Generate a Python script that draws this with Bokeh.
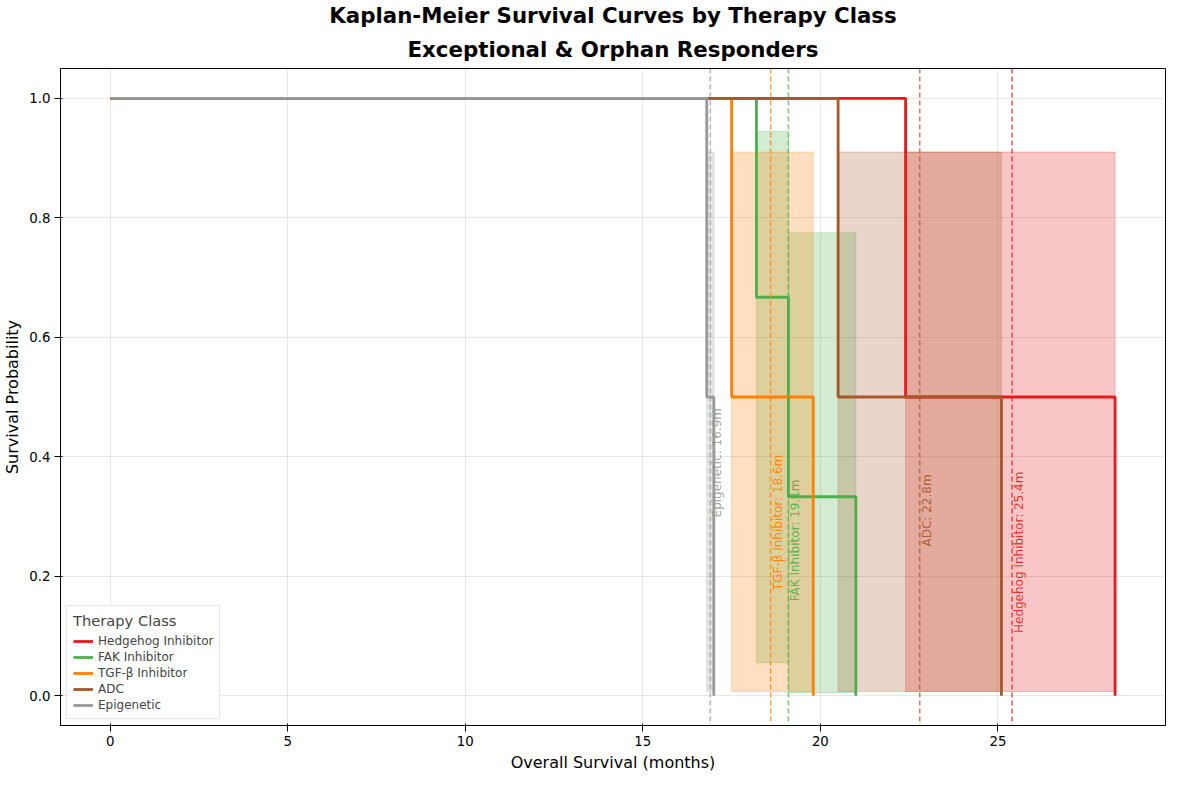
from bokeh.plotting import figure
from bokeh.models import Range1d, Legend, LegendItem, Label, Span, Title, CustomJSTickFormatter
from bokeh.embed import file_html
from bokeh.resources import INLINE

classes = ["Hedgehog Inhibitor", "FAK Inhibitor", "TGF-β Inhibitor", "ADC", "Epigenetic"]
colors = ["#e41a1c", "#4daf4a", "#ff7f00", "#a65628", "#999999"]
times = [[0, 22.4, 28.3], [0, 18.2, 19.1, 21.0], [0, 17.5, 19.8], [0, 20.5, 25.1], [0, 16.8, 17.0]]
surv = [[1, 0.5, 0], [1, 0.667, 0.333, 0], [1, 0.5, 0], [1, 0.5, 0], [1, 0.5, 0]]
ci_left = [[22.4], [18.2, 19.1], [17.5], [20.5], [16.8]]
ci_right = [[28.3], [19.1, 21.0], [19.8], [25.1], [17.0]]
ci_low = [[0.007], [0.055, 0.005], [0.007], [0.007], [0.007]]
ci_high = [[0.91], [0.945, 0.775], [0.91], [0.91], [0.91]]
medians = [25.4, 19.1, 18.6, 22.8, 16.9]
label_y = [0.24, 0.26, 0.29, 0.31, 0.39]

p = figure(width=1173, height=774, output_backend="svg", toolbar_location=None,
           x_range=Range1d(-1.4, 29.72), y_range=Range1d(-0.05, 1.05),
           x_axis_label="Overall Survival (months)", y_axis_label="Survival Probability")
p.title = None
p.add_layout(Title(text="Exceptional & Orphan Responders", align="center", text_font_size="16pt",
                   text_font_style="bold", text_font="DejaVu Sans", text_color="black",
                   offset=0, standoff=14, text_line_height=1.0), "above")
p.add_layout(Title(text="Kaplan-Meier Survival Curves by Therapy Class", align="center", text_font_size="16pt",
                   text_font_style="bold", text_font="DejaVu Sans", text_color="black",
                   standoff=0, text_line_height=1.0), "above")
p.min_border_right = 8
p.min_border_bottom = 0
p.min_border_left = 0
items = []
for i, c in enumerate(classes):
    col = colors[i]
    p.quad(left=ci_left[i], right=ci_right[i], bottom=ci_low[i], top=ci_high[i],
           fill_color=col, fill_alpha=0.25, line_color=col, line_alpha=0.25)
rends = []
for i, c in enumerate(classes):
    col = colors[i]
    r = p.step(times[i], surv[i], mode="after", line_color=col, line_width=2.8)
    rends.append(r)
    items.append(LegendItem(label=c, renderers=[r]))
    p.add_layout(Span(location=medians[i], dimension="height", line_color=col, line_dash="5 3",
                      line_width=1.5, line_alpha=0.75))
    p.add_layout(Label(x=medians[i], y=label_y[i], text=f"{c}: {medians[i]:.1f}m", angle=90,
                       angle_units="deg", text_align="center", text_baseline="top",
                       text_color=col, text_font_size="9pt", text_alpha=0.9, text_font="DejaVu Sans"))

leg = Legend(items=items, location="bottom_left", title="Therapy Class",
             title_text_font_size="11pt", title_text_font_style="normal", label_text_font_size="9pt",
             label_height=14, glyph_height=14, spacing=2, padding=6, border_line_color="#cccccc",
             title_text_font="DejaVu Sans", label_text_font="DejaVu Sans", margin=6)
p.add_layout(leg)
p.xaxis.ticker = [0, 5, 10, 15, 20, 25]
p.yaxis.ticker = [0, 0.2, 0.4, 0.6, 0.8, 1.0]
p.yaxis.formatter = CustomJSTickFormatter(code="return tick.toFixed(1)")
for ax in (p.xaxis, p.yaxis):
    ax.axis_label_text_font_size = "12pt"
    ax.axis_label_text_font_style = "normal"
    ax.axis_label_text_color = "black"
    ax.major_label_text_color = "black"
    ax.major_label_text_font_size = "10pt"
    ax.axis_label_text_font = "DejaVu Sans"
    ax.major_label_text_font = "DejaVu Sans"
    ax.minor_tick_line_color = None
    ax.axis_label_standoff = 4
    ax.major_label_standoff = 4
p.grid.grid_line_alpha = 0.3
p.grid.grid_line_color = "#b0b0b0"
p.outline_line_color = "black"

open("out.html", "w").write(file_html(p, INLINE))
